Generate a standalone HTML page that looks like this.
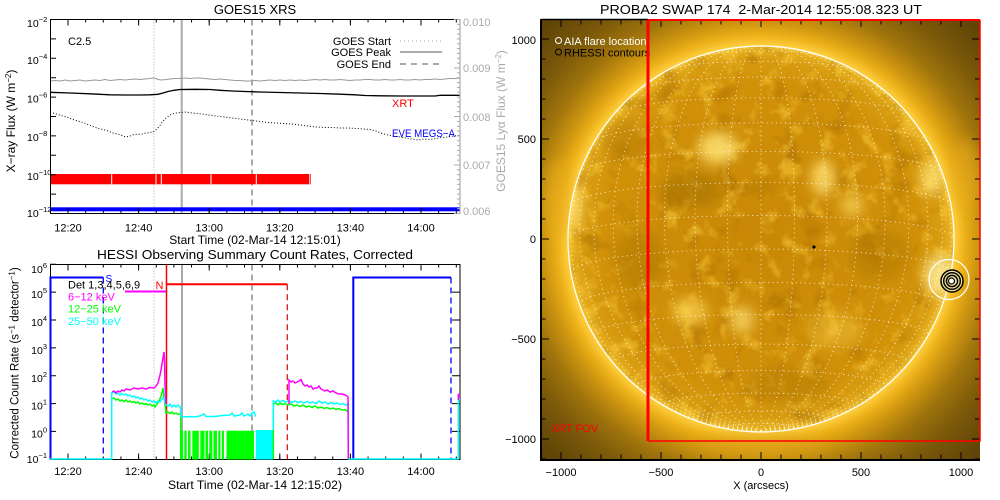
<!DOCTYPE html>
<html><head><meta charset="utf-8"><style>
html,body{margin:0;padding:0;background:#fff;}
svg{display:block;font-family:"Liberation Sans",sans-serif;}
</style></head><body>
<svg width="1000" height="500" viewBox="0 0 1000 500" xmlns="http://www.w3.org/2000/svg">
<defs>
<radialGradient id="corona" gradientUnits="userSpaceOnUse" cx="761" cy="239" r="340">
<stop offset="0" stop-color="#cf9008"/>
<stop offset="0.55" stop-color="#e0a412"/>
<stop offset="0.568" stop-color="#ffd040"/>
<stop offset="0.6" stop-color="#ecb018"/>
<stop offset="0.64" stop-color="#cc9410"/>
<stop offset="0.7" stop-color="#a0740c"/>
<stop offset="0.78" stop-color="#7c5a0a"/>
<stop offset="0.88" stop-color="#624608"/>
<stop offset="1" stop-color="#523c08"/>
</radialGradient>
<radialGradient id="disk" gradientUnits="userSpaceOnUse" cx="761" cy="239" r="193">
<stop offset="0" stop-color="#c88806"/>
<stop offset="0.8" stop-color="#d09008"/>
<stop offset="0.93" stop-color="#d89c10"/>
<stop offset="0.98" stop-color="#e6b020"/>
<stop offset="1" stop-color="#f4c83c"/>
</radialGradient>
<clipPath id="imgc"><rect x="540" y="19" width="440" height="441"/></clipPath>
<clipPath id="diskc"><circle cx="761" cy="239" r="193"/></clipPath>
<filter id="blur6" x="-50%" y="-50%" width="200%" height="200%"><feGaussianBlur stdDeviation="6"/></filter>
<filter id="txb" x="0" y="0" width="1" height="1" color-interpolation-filters="sRGB"><feTurbulence type="fractalNoise" baseFrequency="0.05" numOctaves="4" seed="7"/><feColorMatrix type="matrix" values="0 0 0 0 1  0 0 0 0 0.82  0 0 0 0 0.25  4 0 0 0 -2.2"/></filter>
<filter id="txd" x="0" y="0" width="1" height="1" color-interpolation-filters="sRGB"><feTurbulence type="fractalNoise" baseFrequency="0.035" numOctaves="3" seed="19"/><feColorMatrix type="matrix" values="0 0 0 0 0.62  0 0 0 0 0.4  0 0 0 0 0  -4 0 0 0 1.75"/></filter>
</defs>

<!-- ================= TOP PANEL: GOES15 XRS ================= -->
<text x="255" y="14" font-size="13" text-anchor="middle">GOES15 XRS</text>

<line x1="154" y1="19.5" x2="154" y2="213.5" stroke="#aaa" stroke-width="1" stroke-dasharray="1 2"/>
<line x1="181.7" y1="19.5" x2="181.7" y2="213.5" stroke="#aaa" stroke-width="2"/>
<line x1="252" y1="19.5" x2="252" y2="213.5" stroke="#aaa" stroke-width="2" stroke-dasharray="6 4"/>

<text x="391" y="45" font-size="11" text-anchor="end">GOES Start</text>
<text x="391" y="56" font-size="11" text-anchor="end">GOES Peak</text>
<text x="391" y="68" font-size="11" text-anchor="end">GOES End</text>
<line x1="400" y1="41" x2="442" y2="41" stroke="#aaa" stroke-width="1" stroke-dasharray="1 3"/>
<line x1="400" y1="52" x2="442" y2="52" stroke="#aaa" stroke-width="2"/>
<line x1="400" y1="64" x2="442" y2="64" stroke="#aaa" stroke-width="2" stroke-dasharray="6 5"/>
<text x="68" y="45" font-size="11">C2.5</text>

<polyline fill="none" stroke="#999" stroke-width="1" points="50,81 55,80.5 60,81 65,80 70,81 75,80.5 80,80 85,81 90,80.5 95,80 100,80.5 105,79.5 110,80.5 115,80 120,79.5 125,80 130,79.5 135,79 140,79.5 145,79 150,78.5 153,78 156,78.5 158,79.5 162,80 166,79.5 170,79 175,78.5 180,78.5 185,78 190,78.5 195,78 200,78 205,78.5 210,79 215,79.5 220,79 225,79.5 230,80 235,80.5 240,80.5 245,81 250,81 255,80.5 260,81 265,80.5 270,80 275,80.5 280,80 285,80.5 290,80 295,80.5 300,80 305,80.5 310,80 315,79.5 320,80 325,79.5 330,80 335,80 340,79.5 345,80 350,80.5 355,80 360,80 365,79.5 370,79.5 375,80 380,80 385,79.5 390,80 395,80 400,79.5 405,80 410,80 415,79.5 420,80 425,79.5 430,79.5 435,79 440,79.5 445,79 450,78.5 455,78.5 460,78"/>
<polyline fill="none" stroke="#000" stroke-width="1.3" points="50,92.3 70,93 90,93.8 100,94.3 110,94.8 125,95 140,95 150,94.8 158,94.3 163,93 168,91.5 174,90.3 180,89.5 195,89.3 210,89.5 220,90.3 232,91 245,91.5 260,92 280,92.5 300,93 320,93.5 340,94.2 355,94.8 365,95.5 380,95.8 400,96 420,96 435,96 440,95.3 450,95.3 460,95.3"/>
<polyline fill="none" stroke="#000" stroke-width="1" stroke-dasharray="1 2" points="53,113 58,114.5 63,116 68,117.5 73,119.5 78,121 83,122.5 88,124.5 93,126.5 98,128.5 103,129.5 108,131 113,133 118,134 122,135.5 126,137 130,136 134,134.5 138,134.5 142,134 146,133 150,132.5 154,131.5 157,129 160,125.5 163,121 166,118 170,115 174,113.5 180,112.5 186,112 192,113 198,113.5 205,114.5 212,115.5 220,116.5 228,117.5 236,118.5 244,119.5 252,120.5 260,121.5 268,122.5 276,123 284,123.5 292,124 300,125 308,126 316,127 324,127.5 332,127.5 340,128 348,128 356,128.5 364,129 370,129.5 376,131 382,133.5 388,135 394,136 400,137 406,138 412,139 418,140 424,139 430,139.5 436,138.5 442,137.5 448,137 454,136 460,135.5"/>
<text x="392" y="107" font-size="11" fill="#f00">XRT</text>
<text x="392" y="137" font-size="11" fill="#00f" textLength="63" lengthAdjust="spacingAndGlyphs">EVE MEGS−A</text>

<rect x="50" y="174" width="261" height="10.3" fill="#f00"/>
<g stroke="#fff" stroke-width="1">
<line x1="111.7" y1="174" x2="111.7" y2="184.3"/><line x1="156" y1="174" x2="156" y2="184.3"/><line x1="161.3" y1="174" x2="161.3" y2="184.3"/><line x1="211" y1="174" x2="211" y2="184.3"/><line x1="256.3" y1="174" x2="256.3" y2="184.3"/><line x1="309.8" y1="174" x2="309.8" y2="184.3"/>
</g>
<rect x="50" y="207.3" width="410" height="4" fill="#00f"/>

<path d="M460 19.5H50.5V213.5H460" fill="none" stroke="#000" stroke-width="1"/>
<line x1="460" y1="19" x2="460" y2="214" stroke="#aaa" stroke-width="1.2"/>
<path d="M50 19.5h6M50 38.9h6M50 58.3h6M50 77.7h6M50 97.1h6M50 116.5h6M50 135.9h6M50 155.3h6M50 174.7h6M50 194.1h6M50 213.5h6" stroke="#000" stroke-width="1"/>
<line x1="458.5" y1="214" x2="458.5" y2="19" stroke="#aaa" stroke-width="3" stroke-dasharray="1 3.85"/>
<path d="M460 213.5h-6M460 165h-6M460 116.5h-6M460 68h-6M460 19.5h-6" stroke="#aaa" stroke-width="1"/>
<line x1="67.5" y1="212" x2="460" y2="212" stroke="#000" stroke-width="3" stroke-dasharray="1 16.65"/>
<line x1="67.5" y1="21" x2="460" y2="21" stroke="#000" stroke-width="3" stroke-dasharray="1 16.65"/>
<path d="M68 213.5v-6M138.6 213.5v-6M209.2 213.5v-6M279.8 213.5v-6M350.4 213.5v-6M421 213.5v-6M68 19.5v6M138.6 19.5v6M209.2 19.5v6M279.8 19.5v6M350.4 19.5v6M421 19.5v6" stroke="#000" stroke-width="1"/>

<g font-size="11" text-anchor="middle">
<text x="68" y="231.5">12:20</text><text x="138.6" y="231.5">12:40</text><text x="209.2" y="231.5">13:00</text><text x="279.8" y="231.5">13:20</text><text x="350.4" y="231.5">13:40</text><text x="421" y="231.5">14:00</text>
</g>
<text x="255" y="244" font-size="12" text-anchor="middle">Start Time (02-Mar-14 12:15:01)</text>
<g font-size="10.5">
<text x="27" y="27">10<tspan dy="-5" font-size="7.5">−2</tspan></text>
<text x="27" y="64">10<tspan dy="-5" font-size="7.5">−4</tspan></text>
<text x="27" y="102.5">10<tspan dy="-5" font-size="7.5">−6</tspan></text>
<text x="27" y="141">10<tspan dy="-5" font-size="7.5">−8</tspan></text>
<text x="27" y="180">10<tspan dy="-5" font-size="7.5">−10</tspan></text>
<text x="27" y="217">10<tspan dy="-5" font-size="7.5">−12</tspan></text>
</g>
<g font-size="11" fill="#aaa">
<text x="463" y="26">0.010</text><text x="463" y="72">0.009</text><text x="463" y="121">0.008</text><text x="463" y="169">0.007</text><text x="463" y="215">0.006</text>
</g>
<text transform="translate(15,121) rotate(-90)" font-size="12" text-anchor="middle">X−ray Flux (W m<tspan dy="-4" font-size="8">−2</tspan><tspan dy="4">)</tspan></text>
<text transform="translate(505,121) rotate(-90)" font-size="12" fill="#aaa" text-anchor="middle">GOES15 Lyα Flux (W m<tspan dy="-4" font-size="8">−2</tspan><tspan dy="4">)</tspan></text>

<!-- ================= BOTTOM PANEL: HESSI ================= -->
<text x="255" y="259" font-size="13" text-anchor="middle" textLength="316" lengthAdjust="spacingAndGlyphs">HESSI Observing Summary Count Rates, Corrected</text>

<line x1="154" y1="264.5" x2="154" y2="459.5" stroke="#aaa" stroke-width="1" stroke-dasharray="1 2"/>
<line x1="182" y1="264.5" x2="182" y2="459.5" stroke="#aaa" stroke-width="2"/>
<line x1="252" y1="264.5" x2="252" y2="459.5" stroke="#aaa" stroke-width="2" stroke-dasharray="6 4"/>

<path d="M50.5 264.5H460V459.5H50.5Z" fill="none" stroke="#000" stroke-width="1"/>
<path d="M50 459.3h6M50 431.4h6M50 403.6h6M50 375.7h6M50 347.9h6M50 320h6M50 292.1h6M50 264.3h6M460 431.4h-8M460 403.6h-8M460 375.7h-8M460 347.9h-8M460 320h-8M460 292.1h-8" stroke="#000" stroke-width="1"/>
<line x1="67.5" y1="458" x2="460" y2="458" stroke="#000" stroke-width="3" stroke-dasharray="1 16.65"/>
<line x1="67.5" y1="266" x2="460" y2="266" stroke="#000" stroke-width="3" stroke-dasharray="1 16.65"/>
<path d="M68 459.5v-6M138.6 459.5v-6M209.2 459.5v-6M279.8 459.5v-6M350.4 459.5v-6M421 459.5v-6M68 264.5v6M138.6 264.5v6M209.2 264.5v6M279.8 264.5v6M350.4 264.5v6M421 264.5v6" stroke="#000" stroke-width="1"/>

<path d="M50.5 459.5V277.5H103.3" fill="none" stroke="#00f" stroke-width="2"/>
<line x1="103.3" y1="277.5" x2="103.3" y2="459.5" stroke="#00f" stroke-width="1.3" stroke-dasharray="6 4"/>
<path d="M353.3 459.5V277.5H451" fill="none" stroke="#00f" stroke-width="2"/>
<line x1="451" y1="277.5" x2="451" y2="459.5" stroke="#00f" stroke-width="1.3" stroke-dasharray="6 4"/>
<text x="105.5" y="282" font-size="10" fill="#00f">S</text>

<line x1="166.5" y1="264.5" x2="166.5" y2="459.5" stroke="#f00" stroke-width="1.5"/>
<line x1="166.5" y1="284.3" x2="287.3" y2="284.3" stroke="#f00" stroke-width="2"/>
<line x1="287.3" y1="284.3" x2="287.3" y2="459.5" stroke="#e00000" stroke-width="1.2" stroke-dasharray="6 4"/>
<text x="155.5" y="289" font-size="11" fill="#f00">N</text>
<line x1="125" y1="291.5" x2="166" y2="291.5" stroke="#f0f" stroke-width="2"/>

<text x="68" y="288.3" font-size="11">Det 1,3,4,5,6,9</text>
<text x="68" y="300.5" font-size="11" fill="#f0f">6−12 keV</text>
<text x="68" y="312.5" font-size="11" fill="#0f0">12−25 keV</text>
<text x="68" y="325" font-size="11" fill="#0ff">25−50 keV</text>

<g fill="#0f0">
<rect x="180.7" y="430.7" width="2.5" height="28.8"/>
<rect x="184.3" y="430.7" width="2.4" height="28.8"/>
<rect x="188" y="430.7" width="2.5" height="28.8"/>
<rect x="192.3" y="430.7" width="6.5" height="28.8"/>
<rect x="200.3" y="430.7" width="4.2" height="28.8"/>
<rect x="205.5" y="430.7" width="2.5" height="28.8"/>
<rect x="209.3" y="430.7" width="3" height="28.8"/>
<rect x="213.5" y="430.7" width="3.5" height="28.8"/>
<rect x="218.3" y="430.7" width="2.2" height="28.8"/>
<rect x="221.8" y="430.7" width="2.2" height="28.8"/>
<rect x="226.5" y="430.7" width="27.5" height="28.8"/>
</g>
<rect x="255.7" y="430" width="17.6" height="29.5" fill="#0ff"/>

<polyline fill="none" stroke="#0f0" stroke-width="1.5" points="112,399 114,398 116,400 118,399 120,401 122,400 124,401.5 126,400 128,402 130,401 132,402.5 134,401.5 136,403 138,402 140,404 142,403 144,404.5 146,403.5 148,405 150,404 152,406 154,405 155,407 157,404 159,401 161,396 162,392 163,388 164,398 165,405 166,413 168,412 170,413.5 172,412 174,414 176,413 178,414.5 180.7,414 180.7,459"/>
<polyline fill="none" stroke="#0f0" stroke-width="1.5" points="273.3,459 273.3,404 276,403 278,405 280,403 282,404.5 285,403.5 288,405 291,404 294,406 297,405 300,406.5 303,405 306,407 309,406 312,407.5 315,406 318,408 321,407 324,408.5 327,407.5 330,409 333,408 336,409.5 339,408.5 342,410 345,409.5 347,411 348.3,410 348.3,459"/>
<polyline fill="none" stroke="#0ff" stroke-width="1.5" points="50,459 111.7,459 111.7,393 114,392 116,394 118,393 120,395 122,393.5 124,395 126,394 128,396 130,395 132,397 134,396 136,398 138,397 140,399 142,398 144,400 146,399 148,401 150,400 152,402 154,401 156,403 158,401 160,402 162,399 164,398 165,402 166,405 168,406 170,404 172,407 174,405 176,407 178,405 180,407 180.7,407 180.7,416.7 195,416.7 200,416 204,414 206,416.5 215,416.5 222,415.5 230,415 232,413 234,416 240,415 242,413 244,416 248,414 250,416 252,413 254,412 255.7,416.7"/>
<polyline fill="none" stroke="#0ff" stroke-width="1.5" points="273.3,430 273.3,401 276,402 278,400 280,402 283,400.5 286,402 289,401 292,402.5 295,401 298,402.5 301,401.5 304,403 307,401.5 310,403 313,402 316,403.5 319,401 322,403 325,402 328,404 331,402.5 334,404 337,403 340,404.5 343,403.5 346,405 348.3,404 348.3,459 458.3,459 458.3,399 460,399"/>
<polyline fill="none" stroke="#f0f" stroke-width="1.5" points="112,392 114,391 116,393 118,391 120,392 122,390 124,391 126,389 130,390 134,388 138,389 142,388 146,389 150,387.5 154,388 156,386 158,383 160,375 161,370 162,364 163,358 164,352 164.5,360 165,385 166,404"/>
<polyline fill="none" stroke="#f0f" stroke-width="1.5" points="289,404 289,380 291,382 293,381 295,383 297,382 299,381 301,379.5 303,384 305,386 307,385 309,387 311,386 313,389 315,388 317,388 319,386 321,389 323,390 325,391 327,390 330,392 333,391 336,393 339,394 342,394 345,395 347,396 348,397 348.3,459"/>
<polyline fill="none" stroke="#f0f" stroke-width="1.5" points="458.3,400 458.3,394.5 460,394.5"/>

<g font-size="11" text-anchor="middle">
<text x="68" y="475">12:20</text><text x="138.6" y="475">12:40</text><text x="209.2" y="475">13:00</text><text x="279.8" y="475">13:20</text><text x="350.4" y="475">13:40</text><text x="421" y="475">14:00</text>
</g>
<text x="255" y="489" font-size="12" text-anchor="middle" textLength="174" lengthAdjust="spacingAndGlyphs">Start Time (02-Mar-14 12:15:02)</text>
<g font-size="10.5" text-anchor="end">
<text x="47" y="273">10<tspan dy="-5" font-size="7.5">6</tspan></text>
<text x="47" y="298">10<tspan dy="-5" font-size="7.5">5</tspan></text>
<text x="47" y="326">10<tspan dy="-5" font-size="7.5">4</tspan></text>
<text x="47" y="354">10<tspan dy="-5" font-size="7.5">3</tspan></text>
<text x="47" y="382">10<tspan dy="-5" font-size="7.5">2</tspan></text>
<text x="47" y="409.5">10<tspan dy="-5" font-size="7.5">1</tspan></text>
<text x="47" y="437.5">10<tspan dy="-5" font-size="7.5">0</tspan></text>
<text x="47" y="463">10<tspan dy="-5" font-size="7.5">−1</tspan></text>
</g>
<text transform="translate(18.5,363) rotate(-90)" font-size="11.5" text-anchor="middle">Corrected Count Rate (s<tspan dy="-4" font-size="8">−1</tspan><tspan dy="4"> detector</tspan><tspan dy="-4" font-size="8">−1</tspan><tspan dy="4">)</tspan></text>

<!-- ================= RIGHT PANEL: SWAP ================= -->
<text x="761" y="14" font-size="13" text-anchor="middle" textLength="322" lengthAdjust="spacingAndGlyphs">PROBA2 SWAP 174&#160; 2-Mar-2014 12:55:08.323 UT</text>
<g clip-path="url(#imgc)">
<rect x="540" y="19" width="440" height="441" fill="url(#corona)"/>
<g filter="url(#blur6)" opacity="0.5">
<ellipse cx="558" cy="200" rx="14" ry="40" fill="#e8ac1c"/>
<ellipse cx="965" cy="175" rx="16" ry="35" fill="#e8ac1c"/>
<ellipse cx="760" cy="445" rx="70" ry="12" fill="#d89c14"/>
</g>
<circle cx="761" cy="239" r="193" fill="url(#disk)"/>
<g clip-path="url(#diskc)">
<rect x="560" y="40" width="400" height="400" filter="url(#txd)" opacity="0.4"/>
<rect x="560" y="40" width="400" height="400" filter="url(#txb)" opacity="0.5"/>
<g filter="url(#blur6)">
<ellipse cx="690" cy="190" rx="30" ry="18" fill="#a07000" opacity="0.55"/>
<ellipse cx="640" cy="260" rx="25" ry="30" fill="#a87400" opacity="0.45"/>
<ellipse cx="880" cy="255" rx="30" ry="25" fill="#a87400" opacity="0.4"/>
<ellipse cx="790" cy="385" rx="40" ry="20" fill="#a87400" opacity="0.35"/>
<ellipse cx="625" cy="140" rx="25" ry="20" fill="#a87400" opacity="0.35"/>
<ellipse cx="718" cy="148" rx="20" ry="16" fill="#ffe070" opacity="0.85"/>
<ellipse cx="823" cy="178" rx="12" ry="18" fill="#ffe070" opacity="0.8"/>
<ellipse cx="852" cy="205" rx="12" ry="12" fill="#ffd860" opacity="0.65"/>
<ellipse cx="932" cy="178" rx="12" ry="18" fill="#ffe070" opacity="0.8"/>
<ellipse cx="572" cy="205" rx="10" ry="24" fill="#ffe070" opacity="0.8"/>
<ellipse cx="690" cy="312" rx="18" ry="14" fill="#ffd858" opacity="0.65"/>
<ellipse cx="742" cy="320" rx="12" ry="14" fill="#ffe070" opacity="0.7"/>
<ellipse cx="835" cy="330" rx="28" ry="18" fill="#f4c840" opacity="0.45"/>
<ellipse cx="940" cy="275" rx="16" ry="20" fill="#fff0a0" opacity="0.8"/>
</g>
</g>
<path id="grid" d="" fill="none" stroke="#fff" stroke-width="0.9" stroke-dasharray="1 3.6" opacity="0.85"/>
<circle cx="761" cy="239" r="193" fill="none" stroke="#fff" stroke-width="1.2"/>
<path d="M812 247l2 -2l2 2l-2 2z" fill="#000"/>
</g>

<path d="M541 19.5V460H980" fill="none" stroke="#000" stroke-width="2"/>
<line x1="541" y1="19.5" x2="648" y2="19.5" stroke="#000" stroke-width="1.5"/>
<line x1="543" y1="38.5" x2="543" y2="460" stroke="#000" stroke-width="5" stroke-dasharray="1 19"/>
<line x1="977.5" y1="38.5" x2="977.5" y2="460" stroke="#000" stroke-width="5" stroke-dasharray="1 19"/>
<line x1="560.5" y1="457" x2="980" y2="457" stroke="#000" stroke-width="5" stroke-dasharray="1 19"/>
<line x1="560.5" y1="22" x2="980" y2="22" stroke="#000" stroke-width="5" stroke-dasharray="1 19"/>
<path d="M541 39h8M541 139h8M541 239h8M541 339h8M541 439h8M980 39h-8M980 139h-8M980 239h-8M980 339h-8M980 439h-8M561 460v-8M661 460v-8M761 460v-8M861 460v-8M961 460v-8M561 19v8M661 19v8M761 19v8M861 19v8M961 19v8" stroke="#000" stroke-width="1"/>

<circle cx="558.5" cy="40.5" r="3" fill="none" stroke="#fff" stroke-width="1"/>
<text x="564" y="45" font-size="11" fill="#fff">AIA flare location</text>
<circle cx="558.5" cy="52" r="3" fill="none" stroke="#000" stroke-width="1"/>
<text x="564" y="56.5" font-size="11" fill="#000">RHESSI contours</text>

<circle cx="949" cy="279.5" r="20" fill="none" stroke="#fff" stroke-width="1.2"/>
<circle cx="952" cy="281" r="11" fill="#f8e8a0" stroke="#000" stroke-width="1.5"/>
<circle cx="952" cy="281" r="8.3" fill="none" stroke="#000" stroke-width="1.5"/>
<circle cx="952" cy="281" r="5.6" fill="none" stroke="#000" stroke-width="1.5"/>
<circle cx="951.5" cy="281" r="3" fill="#fff" stroke="#000" stroke-width="1.2"/>

<line x1="648" y1="20" x2="648" y2="441" stroke="#f00" stroke-width="3"/>
<path d="M648 20H980" fill="none" stroke="#f00" stroke-width="2"/>
<path d="M648 441H980V20" fill="none" stroke="#f00" stroke-width="1.5"/>
<text x="551" y="432" font-size="11" fill="#f00">XRT FOV</text>

<g font-size="11" text-anchor="end">
<text x="536" y="44">1000</text><text x="536" y="143">500</text><text x="536" y="243">0</text><text x="536" y="343">−500</text><text x="536" y="443">−1000</text>
</g>
<g font-size="11" text-anchor="middle">
<text x="561" y="476">−1000</text><text x="661" y="476">−500</text><text x="761" y="476">0</text><text x="861" y="476">500</text><text x="961" y="476">1000</text>
</g>
<text x="761" y="489" font-size="11" text-anchor="middle">X (arcsecs)</text>

<script>
(function(){
var cx=761,cy=239,R=193,B=-7*Math.PI/180,d='';
function P(la,lo){la*=Math.PI/180;lo*=Math.PI/180;
var x=R*Math.cos(la)*Math.sin(lo),
y=R*(Math.sin(la)*Math.cos(B)-Math.cos(la)*Math.cos(lo)*Math.sin(B)),
z=Math.sin(la)*Math.sin(B)+Math.cos(la)*Math.cos(lo)*Math.cos(B);
return [cx+x,cy-y,z];}
var la,lo,pen,p;
for(la=-80;la<=80;la+=10){pen=0;for(lo=-180;lo<=180;lo+=1.5){p=P(la,lo);if(p[2]>0){d+=(pen?'L':'M')+p[0].toFixed(1)+' '+p[1].toFixed(1);pen=1;}else pen=0;}}
for(lo=-180;lo<180;lo+=10){pen=0;for(la=-90;la<=90;la+=1.5){p=P(la,lo);if(p[2]>0){d+=(pen?'L':'M')+p[0].toFixed(1)+' '+p[1].toFixed(1);pen=1;}else pen=0;}}
document.getElementById('grid').setAttribute('d',d);
})();
</script>
</svg>
</body></html>
